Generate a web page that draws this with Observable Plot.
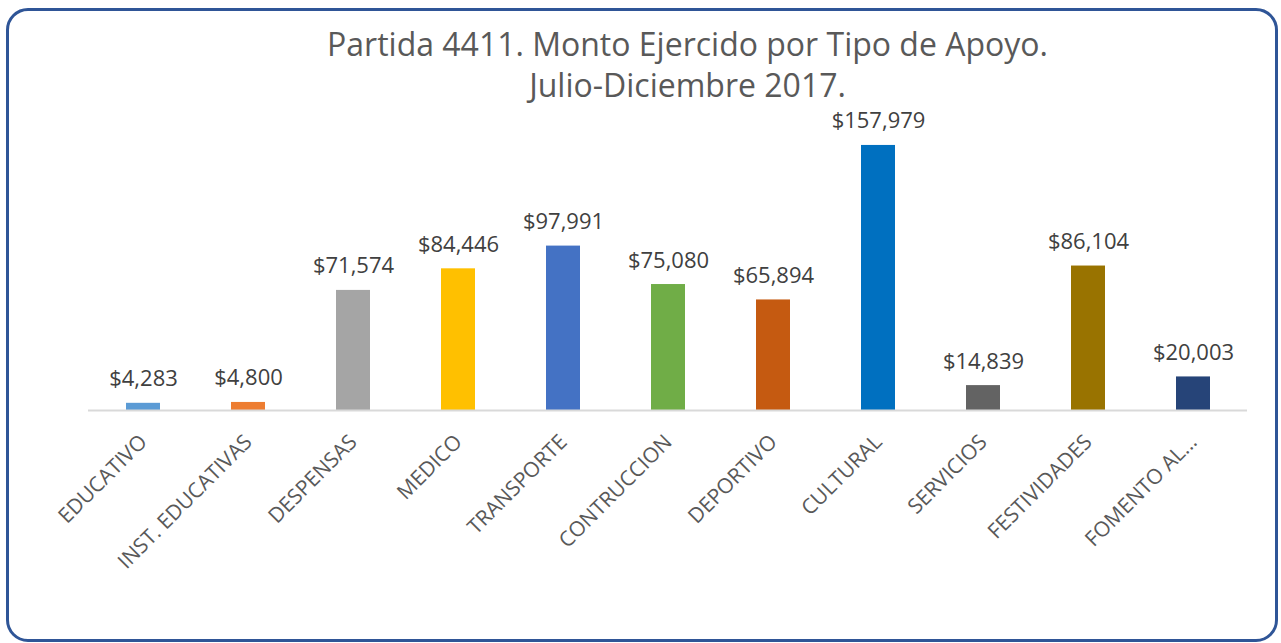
<!DOCTYPE html>
<html>
<head>
<meta charset="utf-8">
<script src="https://cdn.jsdelivr.net/npm/d3@7"></script>
<script src="https://cdn.jsdelivr.net/npm/@observablehq/plot@0.6"></script>
<style>
  html, body { margin: 0; padding: 0; background: #fff; }
  #wrap { position: relative; width: 1281px; height: 643px; overflow: hidden; font-family: "Open Sans", sans-serif; }
  #frame { position: absolute; left: 6px; top: 8px; width: 1272px; height: 634px; box-sizing: border-box;
           border: 3px solid #2F5597; border-radius: 22px; pointer-events: none; }
  #title { position: absolute; left: 94px; top: 23px; width: 1187px; text-align: center; color: #595959;
           font-size: 32px; line-height: 41px; font-weight: 400; }
  #chart { position: absolute; left: 0; top: 100px; }
</style>
</head>
<body>
<div id="wrap">
  <div id="title">Partida 4411. Monto Ejercido por Tipo de Apoyo.<br>Julio-Diciembre 2017.</div>
  <div id="chart"></div>
  <div id="frame"></div>
</div>
<script>
const categories = ["EDUCATIVO", "INST. EDUCATIVAS", "DESPENSAS", "MEDICO", "TRANSPORTE", "CONTRUCCION", "DEPORTIVO", "CULTURAL", "SERVICIOS", "FESTIVIDADES", "FOMENTO AL..."];
const values = [4283, 4800, 71574, 84446, 97991, 75080, 65894, 157979, 14839, 86104, 20003];
const colors = ["#5B9BD5", "#ED7D31", "#A5A5A5", "#FFC000", "#4472C4", "#70AD47", "#C55A11", "#0070C0", "#636363", "#997300", "#264478"];

const data = categories.map((c, i) => ({category: c, value: values[i], color: colors[i]}));
const fmt = d3.format("$,");

const plot = Plot.plot({
  width: 1281,
  height: 543,
  marginLeft: 88,
  marginRight: 34,
  marginTop: 8,
  marginBottom: 233,
  style: {fontFamily: "Open Sans, sans-serif", background: "transparent"},
  x: {domain: categories, paddingInner: 0.68, paddingOuter: 0.34, label: null},
  y: {domain: [0, 180000], axis: null},
  marks: [
    Plot.barY(data, {x: "category", y: "value", fill: "color"}),
    Plot.ruleY([0], {stroke: "#D9D9D9", strokeWidth: 2}),
    Plot.text(data, {x: "category", y: "value", text: d => fmt(d.value), dy: -24, fontSize: 22, fill: "#404040"}),
    Plot.axisX({tickSize: 0, tickPadding: 28, tickRotate: -45, fontSize: 21, color: "#595959", label: null})
  ]
});
document.getElementById("chart").appendChild(plot);
</script>
</body>
</html>
